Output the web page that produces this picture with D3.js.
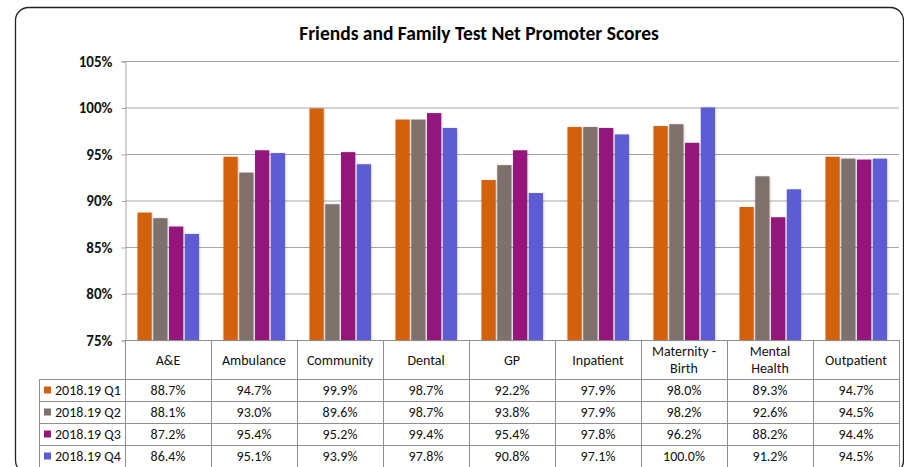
<!DOCTYPE html>
<html>
<head>
<meta charset="utf-8">
<script src="https://cdn.jsdelivr.net/npm/d3@7"></script>
<style>
  body { margin: 0; background: #fff; }
  svg { display: block; font-family: Carlito, Lato, "Open Sans", sans-serif; }
</style>
</head>
<body>
<svg class="chart" width="904" height="467"></svg>
<script>
const categories = ['A&E', 'Ambulance', 'Community', 'Dental', 'GP', 'Inpatient', 'Maternity - Birth', 'Mental Health', 'Outpatient'];
const categoryLines = [['A&E'], ['Ambulance'], ['Community'], ['Dental'], ['GP'], ['Inpatient'], ['Maternity -', 'Birth'], ['Mental', 'Health'], ['Outpatient']];
const seriesNames = ['2018.19 Q1', '2018.19 Q2', '2018.19 Q3', '2018.19 Q4'];
const q1 = [88.7, 94.7, 99.9, 98.7, 92.2, 97.9, 98.0, 89.3, 94.7];
const q2 = [88.1, 93.0, 89.6, 98.7, 93.8, 97.9, 98.2, 92.6, 94.5];
const q3 = [87.2, 95.4, 95.2, 99.4, 95.4, 97.8, 96.2, 88.2, 94.4];
const q4 = [86.4, 95.1, 93.9, 97.8, 90.8, 97.1, 100.0, 91.2, 94.5];
const yTicks = [75, 80, 85, 90, 95, 100, 105];
const colours = ['#d2600e', '#7e706a', '#93187a', '#5d5cd3'];

const seriesValues = [q1, q2, q3, q4];

const margin = { top: 61, left: 125, right: 5 };
const plotBottom = 340;
const headerBottom = 379;
const rowHeight = 22;
const legendLeft = 39;
const gridColour = '#a6a6a6';
const tableColour = '#8f8f8f';
const textSize = '14px';

const svg = d3.select('.chart');
const width = 904;

// outer rounded frame
svg.append('rect')
  .attr('x', 15.5)
  .attr('y', 7.5)
  .attr('width', 888)
  .attr('height', 466)
  .attr('rx', 13)
  .attr('fill', 'none')
  .attr('stroke', '#222')
  .attr('stroke-width', 1.3);

svg.append('text')
  .attr('x', 479)
  .attr('y', 40)
  .attr('text-anchor', 'middle')
  .style('font-size', '19.5px')
  .style('font-weight', 'bold')
  .attr('fill', '#000')
  .text('Friends and Family Test Net Promoter Scores');

const defs = svg.append('defs');
defs.append('filter')
  .attr('id', 'shadow')
  .attr('x', '-30%').attr('y', '-5%')
  .attr('width', '160%').attr('height', '110%')
  .append('feDropShadow')
  .attr('dx', 0.5)
  .attr('dy', 0.5)
  .attr('stdDeviation', 1)
  .attr('flood-color', '#000')
  .attr('flood-opacity', 0.25);

const x0 = d3.scaleBand()
  .domain(categories)
  .range([margin.left, width - margin.right]);

const x1 = d3.scaleBand()
  .domain(seriesNames)
  .range([12.5, x0.bandwidth() - 12])
  .paddingInner(0.1);

const y = d3.scaleLinear()
  .domain([75, 105])
  .range([plotBottom, margin.top]);

// gridlines
svg.append('g')
  .selectAll('line')
  .data(yTicks.slice(1))
  .join('line')
  .attr('x1', margin.left)
  .attr('x2', width - margin.right)
  .attr('y1', d => y(d) + 0.5)
  .attr('y2', d => y(d) + 0.5)
  .attr('stroke', gridColour);

// y axis
const yAxis = d3.axisLeft(y)
  .tickValues(yTicks)
  .tickSize(4)
  .tickPadding(9)
  .tickFormat(d => `${d}%`);

const yg = svg.append('g')
  .attr('transform', `translate(${margin.left + 0.5},0.5)`)
  .call(yAxis);
yg.select('.domain').attr('stroke', gridColour);
yg.selectAll('.tick line').attr('stroke', gridColour);
yg.selectAll('.tick text')
  .style('font-size', '15px')
  .style('font-weight', 'bold')
  .style('font-family', 'Carlito, Lato, "Open Sans", sans-serif')
  .attr('fill', '#111');

// bars
const groups = svg.append('g')
  .selectAll('g')
  .data(categories)
  .join('g')
  .attr('transform', d => `translate(${x0(d)},0)`);

groups.selectAll('rect')
  .data((d, i) => seriesNames.map((s, j) => ({ series: s, value: seriesValues[j][i], colour: colours[j] })))
  .join('rect')
  .attr('x', d => x1(d.series))
  .attr('y', d => y(d.value))
  .attr('width', x1.bandwidth())
  .attr('height', d => plotBottom - y(d.value))
  .attr('fill', d => d.colour)
  .attr('filter', 'url(#shadow)');

// data table
const table = svg.append('g');
const tableBottom = headerBottom + rowHeight * seriesNames.length;

table.append('line')
  .attr('x1', margin.left).attr('x2', width - margin.right)
  .attr('y1', plotBottom + 0.5).attr('y2', plotBottom + 0.5)
  .attr('stroke', tableColour);

d3.range(seriesNames.length + 1).forEach((r) => {
  const yy = headerBottom + r * rowHeight + 0.5;
  table.append('line')
    .attr('x1', legendLeft).attr('x2', width - margin.right)
    .attr('y1', yy).attr('y2', yy)
    .attr('stroke', tableColour);
});

const colEdges = categories.map(c => x0(c)).concat([x0.range()[1]]);
table.selectAll('.col')
  .data(colEdges)
  .join('line')
  .attr('x1', d => Math.round(d) + 0.5)
  .attr('x2', d => Math.round(d) + 0.5)
  .attr('y1', plotBottom)
  .attr('y2', tableBottom)
  .attr('stroke', tableColour);

table.append('line')
  .attr('x1', legendLeft + 0.5).attr('x2', legendLeft + 0.5)
  .attr('y1', headerBottom).attr('y2', tableBottom)
  .attr('stroke', tableColour);

// header labels, one text per line
categories.forEach((c, i) => {
  const lines = categoryLines[i];
  const start = (plotBottom + headerBottom) / 2 + 5 - (lines.length - 1) * 8.5;
  table.append('g')
    .selectAll('text')
    .data(lines)
    .join('text')
    .attr('x', x0(c) + x0.bandwidth() / 2)
    .attr('y', (l, k) => start + k * 17)
    .attr('text-anchor', 'middle')
    .style('font-size', textSize)
    .attr('fill', '#111')
    .text(l => l);
});

// legend column and values
seriesNames.forEach((s, j) => {
  const cy = headerBottom + j * rowHeight + rowHeight / 2;
  table.append('rect')
    .attr('x', 44).attr('y', cy - 3.5)
    .attr('width', 7).attr('height', 7)
    .attr('fill', colours[j]);
  table.append('text')
    .attr('x', 55).attr('y', cy + 5)
    .style('font-size', textSize)
    .attr('fill', '#111')
    .text(s);

  table.append('g')
    .selectAll('text')
    .data(seriesValues[j])
    .join('text')
    .attr('x', (d, i) => x0(categories[i]) + x0.bandwidth() / 2)
    .attr('y', cy + 5)
    .attr('text-anchor', 'middle')
    .style('font-size', textSize)
    .attr('fill', '#111')
    .text(d => `${d.toFixed(1)}%`);
});
</script>
</body>
</html>
